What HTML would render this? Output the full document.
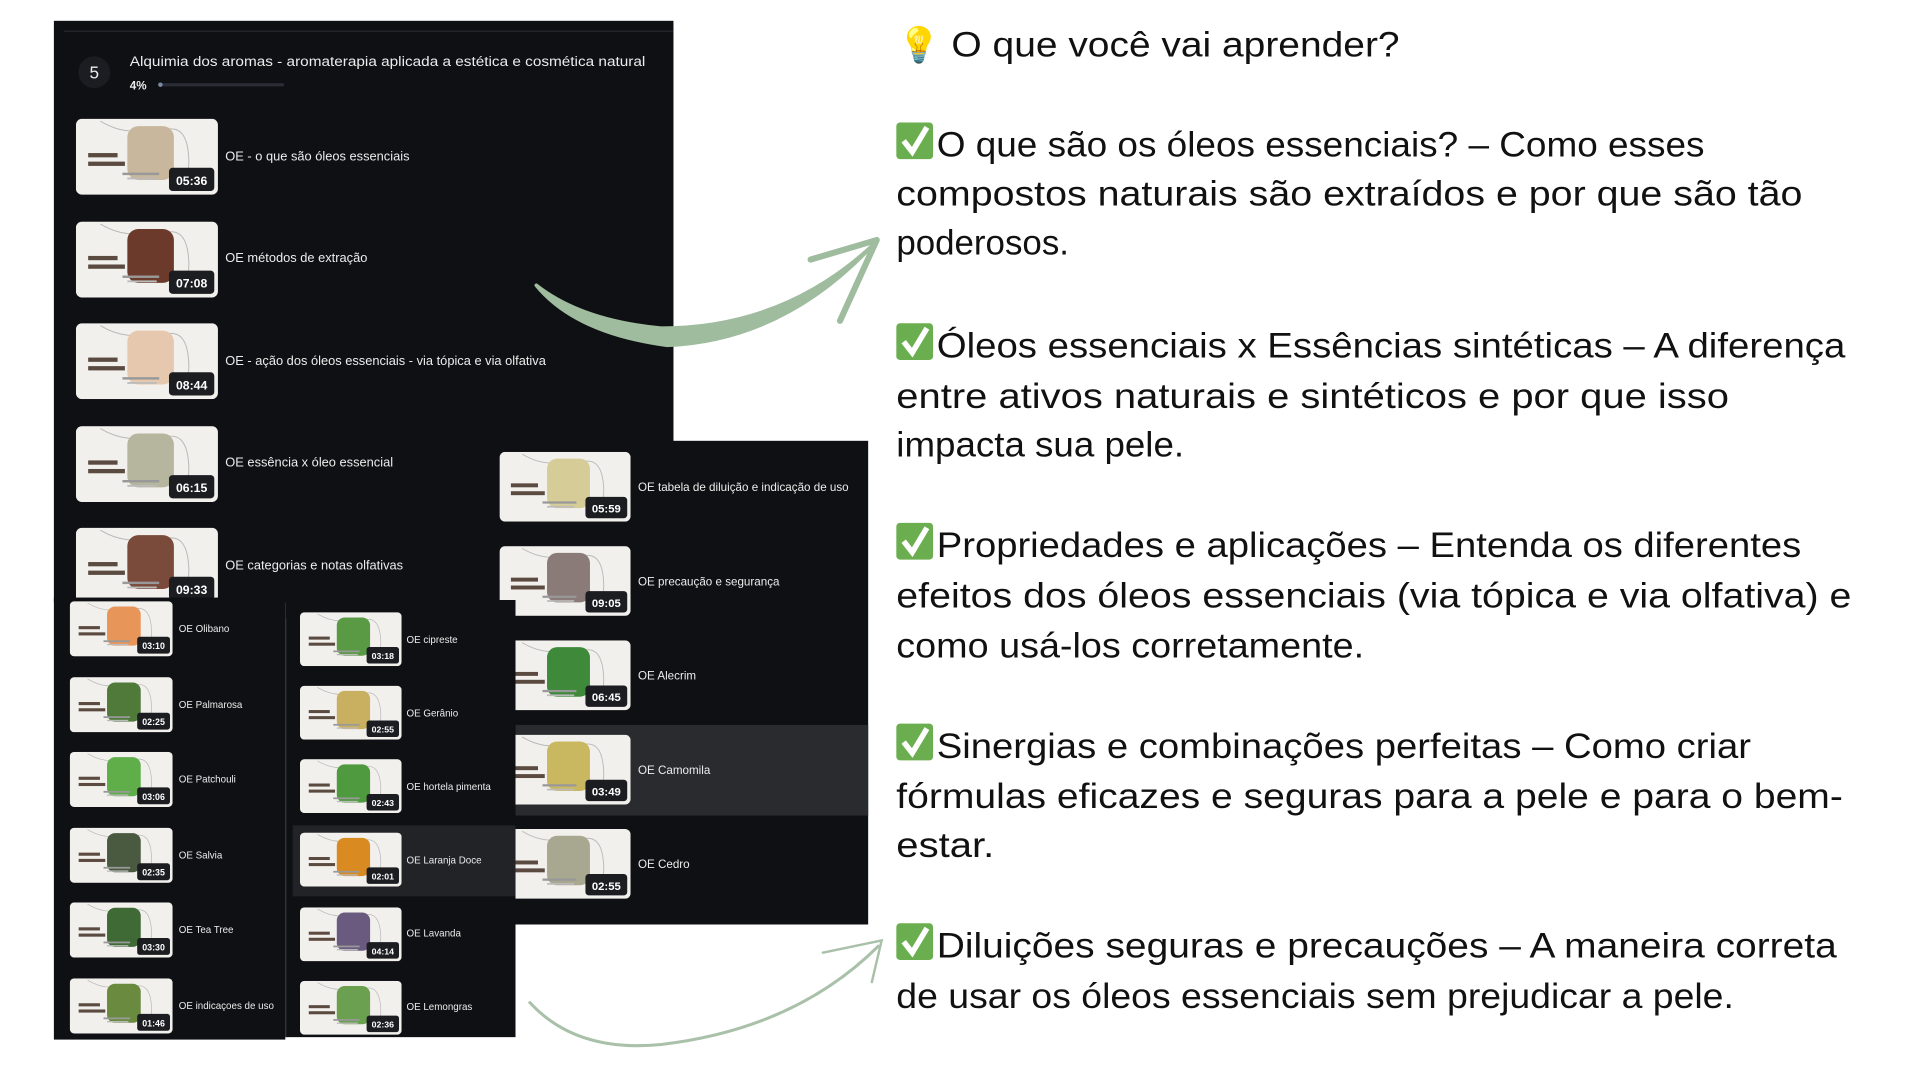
<!DOCTYPE html>
<html><head><meta charset="utf-8">
<style>
html,body{margin:0;padding:0;background:#fff;width:1920px;height:1080px;overflow:hidden}
svg{display:block}
.lb{font-family:"Liberation Sans",sans-serif;fill:#ececec}
.hw{font-family:"Liberation Sans","DejaVu Sans",sans-serif;fill:#111;font-size:29px}
.bd{font-family:"Liberation Sans",sans-serif;fill:#fff;font-weight:bold;font-size:10px;text-anchor:middle}
</style></head><body>
<svg width="1920" height="1080" viewBox="0 0 1568 882" xmlns="http://www.w3.org/2000/svg">
<defs>
<symbol id="th" viewBox="0 0 116 62" preserveAspectRatio="none">
<rect x="0" y="0" width="116" height="62" rx="5" fill="#f2f0ed"/>
<path d="M20 2 Q40 14 60 8 M70 10 Q90 2 92 30 Q94 50 80 56" stroke="#b8b8b8" stroke-width="0.8" fill="none"/>
<rect x="42" y="6" width="38" height="44" rx="9" fill="currentColor"/>
<rect x="10" y="28" width="24" height="3.5" fill="#5a4a40"/>
<rect x="10" y="35" width="30" height="3.5" fill="#5a4a40"/>
<rect x="38" y="44" width="30" height="2" fill="#999"/>
<rect x="42" y="48" width="24" height="1.5" fill="#bbb"/>
<rect x="76" y="40" width="37" height="19" rx="3" fill="#1c1d21"/>
</symbol>
</defs>

<!-- main panel -->
<rect x="44" y="17" width="506" height="475" fill="#0f1013"/>
<rect x="52" y="25" width="498" height="1" fill="#262830"/>
<circle cx="77" cy="59" r="13" fill="#1c1d22"/>
<text x="77" y="64" class="lb" font-size="14" text-anchor="middle">5</text>
<text x="106" y="54" class="lb" font-size="11.5" textLength="421" lengthAdjust="spacingAndGlyphs">Alquimia dos aromas - aromaterapia aplicada a estética e cosmética natural</text>
<text x="106" y="73" class="lb" font-size="9.5" font-weight="bold">4%</text>
<rect x="129" y="68" width="103" height="2.5" rx="1" fill="#2a2d35"/>
<circle cx="131" cy="69.2" r="1.8" fill="#7a8aa8"/>

<svg x="62" y="97" width="116" height="62" viewBox="0 0 116 62"><use href="#th" width="116" height="62" style="color:#c8b79c"/><text x="94.5" y="54" class="bd">05:36</text></svg>
<text x="184" y="131" class="lb" font-size="10.5">OE - o que são óleos essenciais</text>
<svg x="62" y="181" width="116" height="62" viewBox="0 0 116 62"><use href="#th" width="116" height="62" style="color:#6b3a2a"/><text x="94.5" y="54" class="bd">07:08</text></svg>
<text x="184" y="214" class="lb" font-size="10.5">OE métodos de extração</text>
<svg x="62" y="264" width="116" height="62" viewBox="0 0 116 62"><use href="#th" width="116" height="62" style="color:#e6c8ae"/><text x="94.5" y="54" class="bd">08:44</text></svg>
<text x="184" y="298" class="lb" font-size="10.5">OE - ação dos óleos essenciais - via tópica e via olfativa</text>
<svg x="62" y="348" width="116" height="62" viewBox="0 0 116 62"><use href="#th" width="116" height="62" style="color:#b6b59e"/><text x="94.5" y="54" class="bd">06:15</text></svg>
<text x="184" y="381" class="lb" font-size="10.5">OE essência x óleo essencial</text>
<svg x="62" y="431" width="116" height="62" viewBox="0 0 116 62"><use href="#th" width="116" height="62" style="color:#7a4a3a"/><text x="94.5" y="54" class="bd">09:33</text></svg>
<text x="184" y="465" class="lb" font-size="10.5">OE categorias e notas olfativas</text>

<!-- right panel -->
<rect x="408" y="360" width="301" height="395" fill="#0f1013"/>
<rect x="421" y="592" width="288" height="74" fill="#2a2b2f"/>
<svg x="408" y="369" width="107" height="57" viewBox="0 0 116 62" preserveAspectRatio="none"><use href="#th" width="116" height="62" style="color:#d6cc98"/><text x="94.5" y="54" class="bd">05:59</text></svg>
<text x="521" y="401" class="lb" font-size="9.5">OE tabela de diluição e indicação de uso</text>
<svg x="408" y="446" width="107" height="57" viewBox="0 0 116 62" preserveAspectRatio="none"><use href="#th" width="116" height="62" style="color:#8a7a78"/><text x="94.5" y="54" class="bd">09:05</text></svg>
<text x="521" y="478" class="lb" font-size="9.5">OE precaução e segurança</text>
<svg x="408" y="523" width="107" height="57" viewBox="0 0 116 62" preserveAspectRatio="none"><use href="#th" width="116" height="62" style="color:#3f8a3a"/><text x="94.5" y="54" class="bd">06:45</text></svg>
<text x="521" y="555" class="lb" font-size="9.5">OE Alecrim</text>
<svg x="408" y="600" width="107" height="57" viewBox="0 0 116 62" preserveAspectRatio="none"><use href="#th" width="116" height="62" style="color:#c9b860"/><text x="94.5" y="54" class="bd">03:49</text></svg>
<text x="521" y="632" class="lb" font-size="9.5">OE Camomila</text>
<svg x="408" y="677" width="107" height="57" viewBox="0 0 116 62" preserveAspectRatio="none"><use href="#th" width="116" height="62" style="color:#a8a890"/><text x="94.5" y="54" class="bd">02:55</text></svg>
<text x="521" y="709" class="lb" font-size="9.5">OE Cedro</text>

<!-- left lower panel -->
<rect x="44" y="488" width="189" height="361" fill="#0f1013"/>
<rect x="233" y="490" width="188" height="357" fill="#0f1013"/>
<rect x="233" y="505" width="1" height="342" fill="#2a2b30"/>
<rect x="239" y="674" width="182" height="58" fill="#222327"/>

<svg x="57" y="491" width="84" height="45" viewBox="0 0 116 62" preserveAspectRatio="none"><use href="#th" width="116" height="62" style="color:#e8955a"/><text x="94.5" y="54" class="bd">03:10</text></svg>
<text x="146" y="516" class="lb" font-size="8">OE Olibano</text>
<svg x="57" y="553" width="84" height="45" viewBox="0 0 116 62" preserveAspectRatio="none"><use href="#th" width="116" height="62" style="color:#4f7a3a"/><text x="94.5" y="54" class="bd">02:25</text></svg>
<text x="146" y="578" class="lb" font-size="8">OE Palmarosa</text>
<svg x="57" y="614" width="84" height="45" viewBox="0 0 116 62" preserveAspectRatio="none"><use href="#th" width="116" height="62" style="color:#5fae4a"/><text x="94.5" y="54" class="bd">03:06</text></svg>
<text x="146" y="639" class="lb" font-size="8">OE Patchouli</text>
<svg x="57" y="676" width="84" height="45" viewBox="0 0 116 62" preserveAspectRatio="none"><use href="#th" width="116" height="62" style="color:#4a5a40"/><text x="94.5" y="54" class="bd">02:35</text></svg>
<text x="146" y="701" class="lb" font-size="8">OE Salvia</text>
<svg x="57" y="737" width="84" height="45" viewBox="0 0 116 62" preserveAspectRatio="none"><use href="#th" width="116" height="62" style="color:#3f6a35"/><text x="94.5" y="54" class="bd">03:30</text></svg>
<text x="146" y="762" class="lb" font-size="8">OE Tea Tree</text>
<svg x="57" y="799" width="84" height="45" viewBox="0 0 116 62" preserveAspectRatio="none"><use href="#th" width="116" height="62" style="color:#6a8a40"/><text x="94.5" y="54" class="bd">01:46</text></svg>
<text x="146" y="824" class="lb" font-size="8">OE indicaçoes de uso</text>

<svg x="245" y="500" width="83" height="44" viewBox="0 0 116 62" preserveAspectRatio="none"><use href="#th" width="116" height="62" style="color:#5a9a45"/><text x="94.5" y="54" class="bd">03:18</text></svg>
<text x="332" y="525" class="lb" font-size="8">OE cipreste</text>
<svg x="245" y="560" width="83" height="44" viewBox="0 0 116 62" preserveAspectRatio="none"><use href="#th" width="116" height="62" style="color:#c9b060"/><text x="94.5" y="54" class="bd">02:55</text></svg>
<text x="332" y="585" class="lb" font-size="8">OE Gerânio</text>
<svg x="245" y="620" width="83" height="44" viewBox="0 0 116 62" preserveAspectRatio="none"><use href="#th" width="116" height="62" style="color:#4f9a3f"/><text x="94.5" y="54" class="bd">02:43</text></svg>
<text x="332" y="645" class="lb" font-size="8">OE hortela pimenta</text>
<svg x="245" y="680" width="83" height="44" viewBox="0 0 116 62" preserveAspectRatio="none"><use href="#th" width="116" height="62" style="color:#d98a20"/><text x="94.5" y="54" class="bd">02:01</text></svg>
<text x="332" y="705" class="lb" font-size="8">OE Laranja Doce</text>
<svg x="245" y="741" width="83" height="44" viewBox="0 0 116 62" preserveAspectRatio="none"><use href="#th" width="116" height="62" style="color:#6a5a80"/><text x="94.5" y="54" class="bd">04:14</text></svg>
<text x="332" y="765" class="lb" font-size="8">OE Lavanda</text>
<svg x="245" y="801" width="83" height="44" viewBox="0 0 116 62" preserveAspectRatio="none"><use href="#th" width="116" height="62" style="color:#6aa050"/><text x="94.5" y="54" class="bd">02:36</text></svg>
<text x="332" y="825" class="lb" font-size="8">OE Lemongras</text>

<!-- arrows -->
<path d="M438 233 Q470 272 545 282 Q640 278 713 200 Q640 268 540 268 Q475 262 438 233 Z" fill="#9fbc9f" stroke="#9fbc9f" stroke-width="3" stroke-linejoin="round"/>
<path d="M662 212 L716 196 L686 262" fill="none" stroke="#9fbc9f" stroke-width="5" stroke-linecap="round" stroke-linejoin="round"/>
<path d="M432 818 Q470 860 540 853 Q650 840 718 772" fill="none" stroke="#a9c0a9" stroke-width="2.5"/>
<path d="M672 778 L720 768 L712 802" fill="none" stroke="#a9c0a9" stroke-width="2" stroke-linecap="round"/>

<!-- right text -->
<text x="733" y="46" font-size="28" font-family="DejaVu Sans,sans-serif" fill="#f5c542">💡</text>
<text x="777" y="46" class="hw" font-size="31" textLength="366" lengthAdjust="spacingAndGlyphs">O que você vai aprender?</text>

<rect x="732" y="100" width="30" height="30" rx="3" fill="#6aae4f"/><path d="M738 115 L745 124 L757 104" stroke="#fff" stroke-width="4.5" fill="none"/>
<text x="765" y="128" class="hw" textLength="627" lengthAdjust="spacingAndGlyphs">O que são os óleos essenciais? – Como esses</text>
<text x="732" y="168" class="hw" textLength="740" lengthAdjust="spacingAndGlyphs">compostos naturais são extraídos e por que são tão</text>
<text x="732" y="208" class="hw" textLength="141" lengthAdjust="spacingAndGlyphs">poderosos.</text>

<rect x="732" y="264" width="30" height="30" rx="3" fill="#6aae4f"/><path d="M738 279 L745 288 L757 268" stroke="#fff" stroke-width="4.5" fill="none"/>
<text x="765" y="292" class="hw" textLength="742" lengthAdjust="spacingAndGlyphs">Óleos essenciais x Essências sintéticas – A diferença</text>
<text x="732" y="333" class="hw" textLength="680" lengthAdjust="spacingAndGlyphs">entre ativos naturais e sintéticos e por que isso</text>
<text x="732" y="373" class="hw" textLength="235" lengthAdjust="spacingAndGlyphs">impacta sua pele.</text>

<rect x="732" y="427" width="30" height="30" rx="3" fill="#6aae4f"/><path d="M738 442 L745 451 L757 431" stroke="#fff" stroke-width="4.5" fill="none"/>
<text x="765" y="455" class="hw" textLength="706" lengthAdjust="spacingAndGlyphs">Propriedades e aplicações – Entenda os diferentes</text>
<text x="732" y="496" class="hw" textLength="780" lengthAdjust="spacingAndGlyphs">efeitos dos óleos essenciais (via tópica e via olfativa) e</text>
<text x="732" y="537" class="hw" textLength="382" lengthAdjust="spacingAndGlyphs">como usá-los corretamente.</text>

<rect x="732" y="591" width="30" height="30" rx="3" fill="#6aae4f"/><path d="M738 606 L745 615 L757 595" stroke="#fff" stroke-width="4.5" fill="none"/>
<text x="765" y="619" class="hw" textLength="665" lengthAdjust="spacingAndGlyphs">Sinergias e combinações perfeitas – Como criar</text>
<text x="732" y="660" class="hw" textLength="773" lengthAdjust="spacingAndGlyphs">fórmulas eficazes e seguras para a pele e para o bem-</text>
<text x="732" y="700" class="hw" textLength="80" lengthAdjust="spacingAndGlyphs">estar.</text>

<rect x="732" y="754" width="30" height="30" rx="3" fill="#6aae4f"/><path d="M738 769 L745 778 L757 758" stroke="#fff" stroke-width="4.5" fill="none"/>
<text x="765" y="782" class="hw" textLength="735" lengthAdjust="spacingAndGlyphs">Diluições seguras e precauções – A maneira correta</text>
<text x="732" y="823" class="hw" textLength="684" lengthAdjust="spacingAndGlyphs">de usar os óleos essenciais sem prejudicar a pele.</text>
</svg>
</body></html>
